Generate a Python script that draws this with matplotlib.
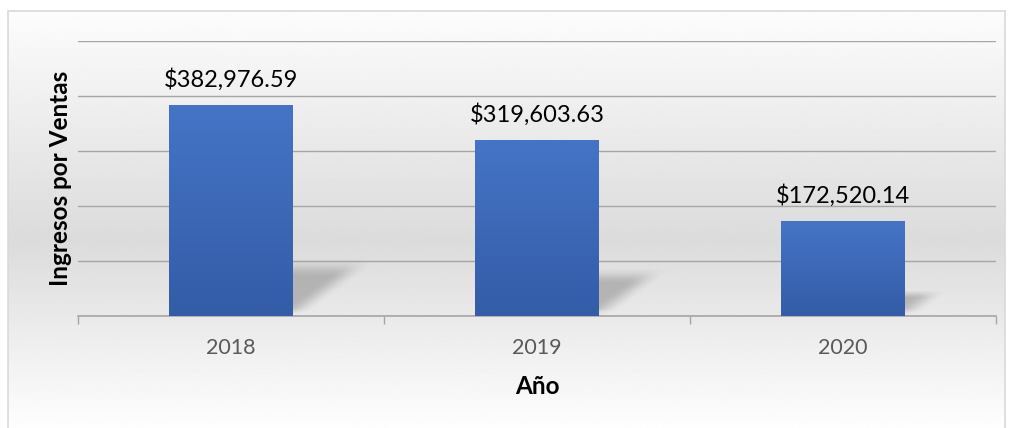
import numpy as np
import matplotlib
matplotlib.use("Agg")
import matplotlib.pyplot as plt
from matplotlib.patches import Rectangle
from matplotlib.colors import LinearSegmentedColormap

# data
years = ["2018", "2019", "2020"]
ingresos = [382976.59, 319603.63, 172520.14]
grid_vals = [0, 100000, 200000, 300000, 400000, 500000]

W, H = 1011, 428
plt.rcParams['font.family'] = ['Lato', 'DejaVu Sans']


def smooth(a):
    a = np.clip(a, 0, 1)
    return a * a * (3 - 2 * a)


fig = plt.figure(figsize=(W / 100, H / 100), dpi=100)
fig.patch.set_facecolor("white")

# chart area with vertical grey gradient + thin frame
bg = fig.add_axes([8 / W, 0, (1005 - 8) / W, (H - 11) / H])
bg.set_axis_off()
stops = [(0.0, 0.99), (0.25, 0.93), (0.55, 0.86), (0.75, 0.92), (1.0, 0.995)]
yy = np.linspace(0, 1, 400)
shade = np.interp(yy, [s[0] for s in stops], [s[1] for s in stops])
grad = np.repeat(shade[:, None], 2, axis=1)
bg.imshow(grad, cmap="gray", vmin=0, vmax=1, aspect="auto",
          extent=[0, 1, 0, 1], origin="upper", interpolation="bilinear")
bg.add_patch(Rectangle((0, -0.1), 1, 1.1, fill=False, edgecolor="#d9d9d9",
                       lw=1.2, transform=bg.transAxes, clip_on=False))
bg.set_xlim(0, 1)
bg.set_ylim(0, 1)

ax = fig.add_axes([78 / W, 1 - 316 / H, (996 - 78) / W, (316 - 41) / H])
ax.patch.set_alpha(0)

x = np.arange(len(years))
bw = 0.405
vmax = max(ingresos)
bar_cmap = LinearSegmentedColormap.from_list("barblue", ["#4574c6", "#345ca7"])

for xi, v in zip(x, ingresos):
    xl, xr = xi - bw / 2, xi + bw / 2
    # soft perspective shadow behind the bar
    dx = 0.23 * v / vmax
    sh = 0.25 * v
    xs = np.linspace(xl, xr + dx + 0.12, 240)
    ys = np.linspace(0, sh * 1.25, 140)
    X, Y = np.meshgrid(xs, ys)
    t = Y / sh
    s = (X - (xl + dx * t)) / bw
    a = smooth((1.1 - s) / 0.25) * smooth((1.12 - t) / 0.4) * smooth(Y / (0.04 * vmax))
    a *= (s > 0)
    rgba = np.zeros(X.shape + (4,))
    rgba[..., :3] = 0.42
    rgba[..., 3] = 0.4 * a
    ax.imshow(rgba, extent=[xs[0], xs[-1], 0, ys[-1]], origin="lower",
              aspect="auto", zorder=2, interpolation="bilinear")
    # gradient bar
    bar_img = np.linspace(0, 1, 100)[:, None]
    ax.imshow(bar_img, cmap=bar_cmap, vmin=0, vmax=1, aspect="auto",
              extent=[xl, xr, 0, v], origin="upper",
              zorder=3, interpolation="bilinear")
    ax.annotate(f"${v:,.2f}", (xi, v), xytext=(0, 13), textcoords="offset points",
                ha="center", va="baseline", fontsize=17, color="black", zorder=5)

ax.set_xlim(-0.5, len(years) - 0.5)
ax.set_ylim(0, grid_vals[-1])
ax.set_yticks(grid_vals)
ax.yaxis.grid(True, color="#a6a6a6", lw=1.0)
ax.set_axisbelow(True)
ax.tick_params(axis="y", length=0, labelleft=False)

ax.set_xticks(x)
ax.set_xticklabels(years, fontsize=15.5, color="#595959")
ax.set_xticks(np.arange(len(years) + 1) - 0.5, minor=True)
ax.tick_params(axis="x", which="major", length=0, pad=16)
ax.tick_params(axis="x", which="minor", length=6, width=1, color="#a6a6a6")

for s in ["top", "right", "left"]:
    ax.spines[s].set_visible(False)
ax.spines["bottom"].set_color("#a6a6a6")
ax.spines["bottom"].set_linewidth(1.2)

ax.set_xlabel("Año", fontsize=17.5, fontweight="bold", color="black", labelpad=12)
ax.set_ylabel("Ingresos por Ventas", fontsize=17.5, fontweight="bold", color="black", labelpad=4)

fig.savefig("out.png", dpi=100)
